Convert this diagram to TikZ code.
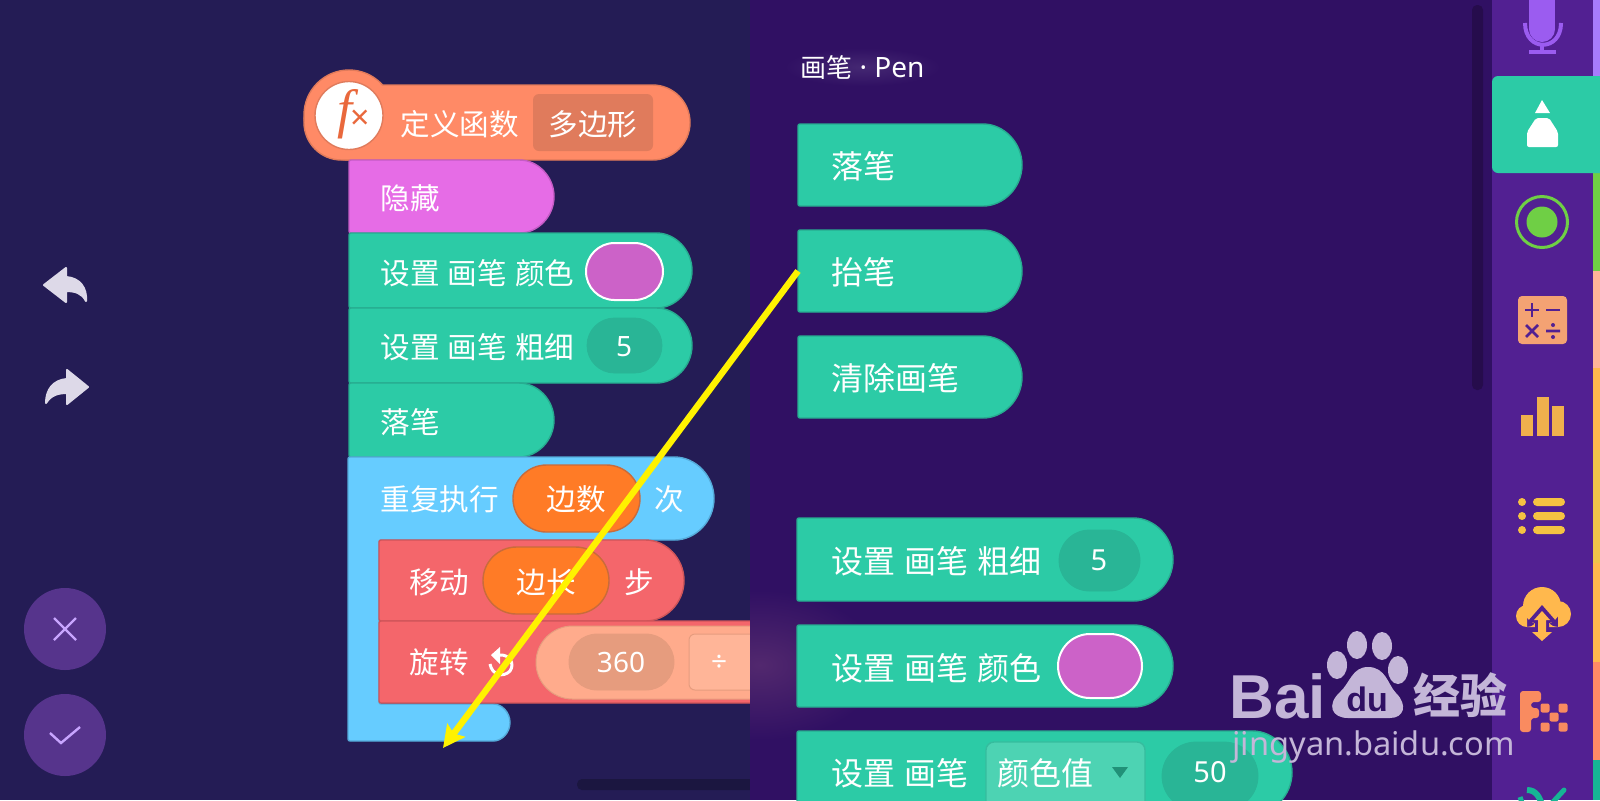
\documentclass[tikz,border=0pt]{standalone}
\usepackage{fontspec}
\setmainfont[WordSpace=1.25]{Noto Sans CJK SC}
\newfontfamily\latinfont{Noto Sans}
\newfontfamily\fxfont{Liberation Serif}
\newfontfamily\markfont{Liberation Sans}
\usetikzlibrary{arrows.meta}

\definecolor{leftbg}{HTML}{241C55}
\definecolor{panelbg}{HTML}{301063}
\definecolor{sidebg}{HTML}{522092}
\definecolor{glowc}{HTML}{52286E}
\definecolor{scrollc}{HTML}{260C4C}
\definecolor{homec}{HTML}{1B1640}
\definecolor{teal}{HTML}{2CCBA6}
\definecolor{tealedge}{HTML}{27AC90}
\definecolor{tealdark}{HTML}{29B596}
\definecolor{teallight}{HTML}{4DD3B3}
\definecolor{swatch}{HTML}{CC62C8}
\definecolor{pinkblock}{HTML}{E66CE6}
\definecolor{pinkedge}{HTML}{C55BC5}
\definecolor{salmon}{HTML}{FF8A66}
\definecolor{salmonedge}{HTML}{E07A5A}
\definecolor{salmondark}{HTML}{E07B5C}
\definecolor{fxc}{HTML}{E9683C}
\definecolor{blueblock}{HTML}{66CCFF}
\definecolor{blueedge}{HTML}{55AAD9}
\definecolor{redblock}{HTML}{F4666B}
\definecolor{rededge}{HTML}{CF5559}
\definecolor{orangevar}{HTML}{FF7B26}
\definecolor{orangeedge}{HTML}{C96B3B}
\definecolor{peach}{HTML}{FFAB8C}
\definecolor{peachdark}{HTML}{E69C7E}
\definecolor{peachlight}{HTML}{FFB598}
\definecolor{roundbtn}{HTML}{56348C}
\definecolor{roundmark}{HTML}{C8A5FF}
\definecolor{arrowgrey}{HTML}{DDD9E8}
\definecolor{micc}{HTML}{9B5CF0}
\definecolor{stripmic}{HTML}{A77BFB}
\definecolor{greenc}{HTML}{6FCF45}
\definecolor{calcc}{HTML}{F4A273}
\definecolor{barc}{HTML}{F0B04D}
\definecolor{listc}{HTML}{F5C242}
\definecolor{cloudc}{HTML}{FFB84D}
\definecolor{stripyellow}{HTML}{EFC44A}
\definecolor{fxicon}{HTML}{F98B60}
\definecolor{stripteal}{HTML}{16B595}
\definecolor{mark}{HTML}{C4B6D8}

\tikzset{
    lbl/.style={text=white, inner sep=0pt, font=\fontsize{14.8}{16}\selectfont},
    rbl/.style={text=white, inner sep=0pt, font=\fontsize{16}{18}\selectfont},
    num/.style={text=white, inner sep=0pt, font=\latinfont\fontsize{14}{16}\selectfont},
    rnum/.style={text=white, inner sep=0pt, font=\latinfont\fontsize{14.5}{16}\selectfont},
    tealblock/.style={fill=teal, draw=tealedge, line width=0.7pt},
    pinkstack/.style={fill=pinkblock, draw=pinkedge, line width=0.7pt},
    bluestack/.style={fill=blueblock, draw=blueedge, line width=0.7pt},
    redstack/.style={fill=redblock, draw=rededge, line width=0.7pt},
    varpill/.style={fill=orangevar, draw=orangeedge, line width=0.7pt},
    numpill/.style={fill=tealdark, draw=tealdark},
    markdot/.style={fill=mark},
}

% block with a flat left side and a round right side: style, left, top, right, bottom
\newcommand{\capblock}[5]{%
    \pgfmathsetmacro{\capr}{(#5-#3)/2}
    \draw[#1, rounded corners=1pt] (#2,#3) -- ({#4-\capr},#3)
        arc[start angle=-90, end angle=90, radius=\capr] -- (#2,#5) -- cycle;
}
% pill: style, left, top, right, bottom
\newcommand{\pillbox}[5]{%
    \pgfmathsetmacro{\capr}{(#5-#3)/2}
    \draw[#1] ({#2+\capr},#3) -- ({#4-\capr},#3)
        arc[start angle=-90, end angle=90, radius=\capr] -- ({#2+\capr},#5)
        arc[start angle=90, end angle=270, radius=\capr] -- cycle;
}

\begin{document}
\begin{tikzpicture}[x=0.5pt, y=-0.5pt]
    \useasboundingbox (0,0) rectangle (1600,800);
    \clip (0,0) rectangle (1600,800);

    % Background of the work area
    \fill[leftbg] (0,0) rectangle (1600,800);

    % Undo and redo
    \fill[fill=arrowgrey, draw=arrowgrey, line width=1pt, line join=round]
        (44,285) -- (66,268) -- (66,277) .. controls (80,278) and (87,288) .. (86,301)
        .. controls (82,293) and (75,291) .. (66,291) -- (66,302) -- cycle;
    \fill[fill=arrowgrey, draw=arrowgrey, line width=1pt, line join=round]
        (88,387) -- (67,370) -- (67,379) .. controls (53,380) and (46,390) .. (46,403)
        .. controls (51,395) and (58,393) .. (67,393) -- (67,404) -- cycle;

    % Cancel and confirm
    \fill[roundbtn] (65,629) circle (41);
    \fill[roundbtn] (65,735) circle (41);
    \draw[roundmark, line width=1.2pt] (54,618) -- (76,640) (76,618) -- (54,640);
    \draw[roundmark, line width=1.2pt] (50,733) -- (61,743) -- (80,727);

    % Function header
    \draw[fill=salmon, draw=salmonedge, line width=0.7pt] (349,115) circle (45);
    \pillbox{fill=salmon, draw=salmonedge, line width=0.7pt}{304}{85}{690}{160}
    \fill[salmon] (349,115) circle (44);
    \draw[fill=white, draw=salmondark, line width=0.7pt] (349,115.5) circle (34);
    \node[inner sep=0pt, text=fxc, font=\fxfont\itshape\fontsize{27}{27}\selectfont] (fxf) at (345,114) {f};
    \node[inner sep=0pt, text=fxc, font=\latinfont\fontsize{17}{17}\selectfont] (fxx) at (360,120) {×};
    \node[lbl, anchor=west] (deflbl) at (400,124) {定义函数};
    \fill[fill=salmondark, rounded corners=3pt] (533,94) rectangle (653,151);
    \node[lbl] (polylbl) at (593,124) {多边形};

    % Stack on the left
    \capblock{pinkstack}{349}{160}{554}{233}
    \node[lbl, anchor=west] (hidelbl) at (380,198) {隐藏};

    \capblock{tealblock}{349}{233}{692}{308}
    \node[lbl, anchor=west] (colorlbl) at (380,273) {设置 画笔 颜色};
    \pillbox{fill=swatch, draw=white, line width=1pt}{586}{243}{663}{300}

    \capblock{tealblock}{349}{308}{692}{383}
    \node[lbl, anchor=west] (widthlbl) at (380,347) {设置 画笔 粗细};
    \pillbox{numpill}{587}{318}{662}{373}
    \node[num] (widthval) at (624,347) {5};

    \capblock{tealblock}{349}{383}{554}{457}
    \node[lbl, anchor=west] (downlbl) at (380,422) {落笔};

    % Repeat block
    \draw[bluestack, rounded corners=1pt] (348,457) -- (672.5,457)
        arc[start angle=-90, end angle=90, radius=41.5] -- (379,540) -- (379,704) -- (491.5,704)
        arc[start angle=-90, end angle=90, radius=18.5] -- (348,741) -- cycle;
    \node[lbl, anchor=west] (repeatlbl) at (380,499) {重复执行};
    \pillbox{varpill}{513}{465}{640}{532}
    \node[lbl] (sideslbl) at (576,499) {边数};
    \node[lbl] (timeslbl) at (669,499) {次};

    \capblock{redstack}{379}{540}{684}{621}
    \node[lbl] (movelbl) at (439,582) {移动};
    \pillbox{varpill}{483}{547}{609}{614}
    \node[lbl] (lenlbl) at (546,582) {边长};
    \node[lbl] (stepslbl) at (639,582) {步};

    \draw[redstack, rounded corners=1pt] (379,621) rectangle (800,703);
    \node[lbl] (turnlbl) at (439,662) {旋转};
    \draw[white, line width=1.5pt] (499,655) .. controls (510,654) and (515,664) .. (510,671)
        .. controls (503,678) and (492,675) .. (490,664);
    \fill[white] (500,647) -- (500,664) -- (491,655) -- cycle;
    \pillbox{fill=peach, draw=peachdark, line width=0.5pt}{536}{626}{900}{699}
    \pillbox{fill=peachdark, draw=peachdark}{569}{634}{674}{690}
    \node[num] (angleval) at (621,662) {360};
    \draw[fill=peachlight, draw=peachdark, line width=0.5pt, rounded corners=3pt] (689,634) rectangle (800,690);
    \node[num] (divlbl) at (719,663) {÷};

    % Home bar
    \fill[fill=homec, rounded corners=2.5pt] (577,779) rectangle (800,790);

    % Palette panel
    \fill[panelbg] (750,0) rectangle (1492,800);
    \begin{scope}
        \clip (750,0) rectangle (1492,800);
        \shade[inner color=glowc, outer color=panelbg] (640,590) rectangle (880,740);
    \end{scope}
    \fill[scrollc, rounded corners=2.5pt] (1472,5) rectangle (1483,390);
    \shade[inner color=panelbg!90!white, outer color=panelbg] (785,48) rectangle (940,86);
    \node[text=white, inner sep=0pt, font=\fontsize{13}{15}\selectfont, anchor=west] (pentitle) at (800,67) {画笔 {\latinfont\fontsize{14}{15}\selectfont · Pen}};

    \capblock{tealblock}{798}{124}{1022}{206}
    \node[rbl, anchor=west] (pdown) at (831,166) {落笔};
    \capblock{tealblock}{798}{230}{1022}{312}
    \node[rbl, anchor=west] (pup) at (831,272) {抬笔};
    \capblock{tealblock}{798}{336}{1022}{418}
    \node[rbl, anchor=west] (pclear) at (831,378) {清除画笔};

    \capblock{tealblock}{797}{518}{1173}{601}
    \node[rbl, anchor=west] (pwidth) at (831,561) {设置 画笔 粗细};
    \pillbox{numpill}{1059}{530}{1140}{591}
    \node[rnum] (pwidthval) at (1099,560) {5};

    \capblock{tealblock}{797}{625}{1173}{707}
    \node[rbl, anchor=west] (pcolor) at (831,668) {设置 画笔 颜色};
    \pillbox{fill=swatch, draw=white, line width=1pt}{1058}{634}{1142}{698}

    \capblock{tealblock}{797}{731}{1292}{814}
    \node[rbl, anchor=west] (pvalue) at (831,773) {设置 画笔};
    \draw[fill=teallight, draw=tealedge!60!teallight, line width=0.7pt, rounded corners=4pt] (986,742) rectangle (1145,810);
    \node[rbl, anchor=west] (pkind) at (997,773) {颜色值};
    \fill[fill=tealdark!80!black] (1112,767) -- (1128,767) -- (1120,778) -- cycle;
    \pillbox{numpill}{1162}{742}{1258}{810}
    \node[rnum] (pvalueval) at (1210,772) {50};

    % Side bar with the category colours
    \fill[sidebg] (1492,0) rectangle (1593,800);
    \fill[stripmic] (1593,0) rectangle (1600,76);
    \fill[greenc] (1593,173) rectangle (1600,271);
    \fill[peachlight] (1593,271) rectangle (1600,368);
    \fill[cloudc] (1593,368) rectangle (1600,662);
    \fill[stripyellow] (1593,450) rectangle (1600,563);
    \fill[salmon] (1593,662) rectangle (1600,760);
    \fill[stripteal] (1593,760) rectangle (1600,800);
    \fill[teal, rounded corners=3pt] (1492,76) rectangle (1640,173);

    % Mic
    \fill[micc] (1529,-10) rectangle (1555,29);
    \fill[micc] (1542,29) circle (13);
    \draw[micc, line width=2pt] (1525,23) .. controls (1525,52) and (1561,52) .. (1561,23);
    \draw[micc, line width=2pt] (1542,45) -- (1542,52) (1529,52) -- (1556,52);

    % Pen
    \fill[white] (1542,100) -- (1550,113) -- (1535,113) -- cycle;
    \fill[white, rounded corners=1pt] (1527,147) -- (1527,132) -- (1536,118) -- (1549,118) -- (1558,132) -- (1558,147) -- cycle;

    % Target
    \draw[greenc, line width=1.5pt] (1542,222) circle (25.5);
    \fill[greenc] (1542,222) circle (15.5);

    % Calculator
    \fill[calcc, rounded corners=2pt] (1518,296) rectangle (1567,344);
    \draw[sidebg, line width=1.3pt] (1525,310) -- (1539,310) (1532,303) -- (1532,317) (1546,310) -- (1560,310);
    \draw[sidebg, line width=1.3pt] (1526,325) -- (1538,337) (1538,325) -- (1526,337) (1546,331) -- (1560,331);
    \fill[sidebg] (1553,325) circle (2) (1553,337) circle (2);

    % Bars
    \fill[barc] (1521,415) rectangle (1533,436);
    \fill[barc] (1537,397) rectangle (1549,436);
    \fill[barc] (1552,406) rectangle (1564,436);

    % List
    \foreach \rowy in {502,516,530} {
        \fill[listc] (1522,\rowy) circle (4);
        \fill[listc, rounded corners=2pt] (1533,\rowy-4) rectangle (1565,\rowy+4);
    }

    % Cloud
    \fill[cloudc] (1542,606) circle (19) (1527,616) circle (11) (1558,614) circle (13) (1527,612) rectangle (1558,627);
    \fill[sidebg, line join=round] (1542,605) -- (1528,621) -- (1535,623) -- (1535,631) -- (1549,631) -- (1549,623) -- (1556,621) -- cycle;
    \fill[cloudc] (1542,611) -- (1534,620) -- (1538,620) -- (1538,632) -- (1532,632) -- (1542,641) -- (1552,632) -- (1546,632) -- (1546,620) -- (1550,620) -- cycle;

    % Functions
    \fill[fxicon, rounded corners=1.5pt] (1520,691) -- (1541,691) -- (1541,702) -- (1531,702) -- (1531,708) -- (1539,708) -- (1539,718) -- (1531,718) -- (1531,732) -- (1520,732) -- cycle;
    \foreach \dotx/\doty in {1545/708, 1563/708, 1554/717, 1545/727, 1563/727} {
        \fill[fxicon, rounded corners=1pt] (\dotx-4.5,\doty-4.5) rectangle (\dotx+4.5,\doty+4.5);
    }

    % Tools
    \draw[stripteal, line width=3pt] (1527,790) .. controls (1536,790) and (1540,797) .. (1543,808);
    \draw[stripteal, line width=2.5pt] (1520,797) -- (1524,808);
    \draw[stripteal, line width=2.5pt, line cap=round] (1564,790) -- (1552,803);

    % Yellow arrow
    \coordinate (arrowfrom) at (798,271);
    \coordinate (arrowto) at (443,748);
    \draw[-{Stealth[length=11pt, width=11pt, inset=2pt]}, color=yellow, line width=3.2pt] (arrowfrom) -- (arrowto);

    % Watermark
    \node[inner sep=0pt, anchor=base west, text=mark, font=\markfont\bfseries\fontsize{31}{31}\selectfont] (bailbl) at (1229,718) {Bai};
    \fill[markdot] (1357,645) ellipse (10 and 14);
    \fill[markdot] (1382,646) ellipse (10 and 14);
    \fill[markdot] (1337,665) ellipse (10 and 14);
    \fill[markdot] (1398,670) ellipse (10 and 14);
    \fill[markdot] (1368,667) .. controls (1386,667) and (1388,685) .. (1396,693)
        .. controls (1408,705) and (1404,718) .. (1390,718) -- (1348,718)
        .. controls (1332,718) and (1326,705) .. (1340,692)
        .. controls (1350,683) and (1352,667) .. (1368,667) -- cycle;
    \node[inner sep=0pt, text=panelbg, font=\markfont\bfseries\fontsize{17}{17}\selectfont] (dulbl) at (1367,699) {du};
    \node[inner sep=0pt, text=mark, font=\bfseries\fontsize{23.5}{24}\selectfont] (jylbl) at (1460,695) {经验};
    \node[inner sep=0pt, anchor=base west, text=mark, font=\latinfont\fontsize{16.3}{18}\selectfont] (urllbl) at (1232,755) {jingyan.baidu.com};
\end{tikzpicture}
\end{document}
